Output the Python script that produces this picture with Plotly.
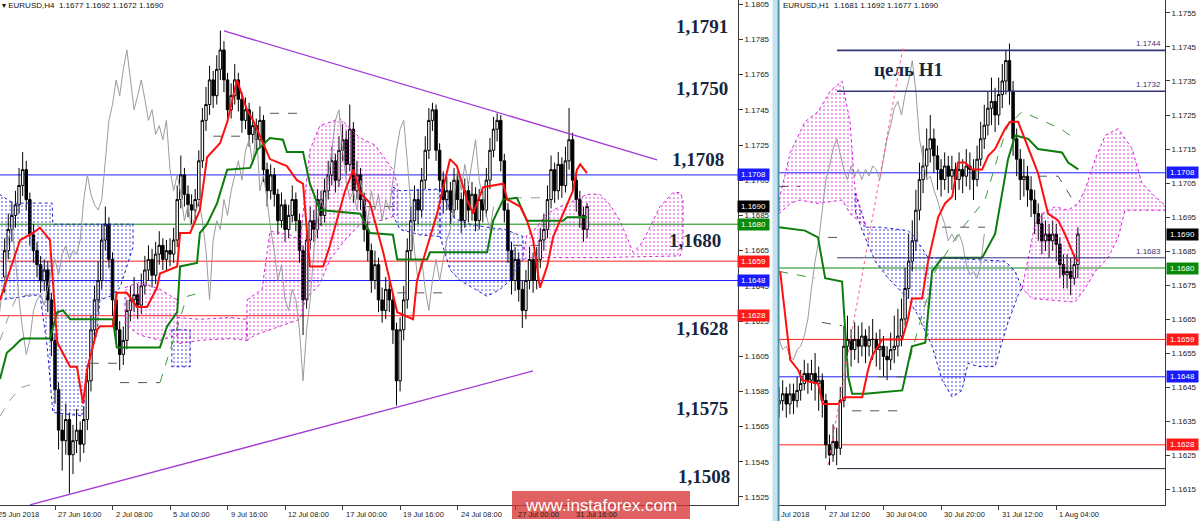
import plotly.graph_objects as go

# ======================= DATA =======================
# ---- Left panel: EURUSD H4, bar index 0 = first visible bar ----
L_FIRST_OPEN = 1.1650
L_CLOSE = [
    1.1665, 1.1677, 1.1685, 1.1691, 1.1702, 1.1711, 1.1694, 1.1674, 1.1665, 1.1657,
    1.1648, 1.1654, 1.1637, 1.1614, 1.1586, 1.1563, 1.1557, 1.1569, 1.1549, 1.1557,
    1.1563, 1.1555, 1.1569, 1.1591, 1.1620, 1.1637, 1.1648, 1.1671, 1.1680, 1.1660,
    1.1637, 1.1620, 1.1606, 1.1614, 1.1631, 1.1637, 1.1640, 1.1634, 1.1645, 1.1654,
    1.1660, 1.1651, 1.1663, 1.1668, 1.1660, 1.1665, 1.1663, 1.1671, 1.1694, 1.1708,
    1.1697, 1.1691, 1.1688, 1.1694, 1.1716, 1.1739, 1.1748, 1.1762, 1.1753, 1.1768,
    1.1779, 1.1762, 1.1745, 1.1753, 1.1762, 1.1751, 1.1739, 1.1745, 1.1731, 1.1736,
    1.1728, 1.1739, 1.1711, 1.1699, 1.1708, 1.1697, 1.1682, 1.1691, 1.1677, 1.1685,
    1.1694, 1.1682, 1.1665, 1.1637, 1.1671, 1.1682, 1.1677, 1.1694, 1.1685, 1.1699,
    1.1708, 1.1716, 1.1705, 1.1722, 1.1728, 1.1714, 1.1734, 1.1699, 1.1708, 1.1694,
    1.1677, 1.1665, 1.1648, 1.1657, 1.1637, 1.1631, 1.1643, 1.1637, 1.1620, 1.1591,
    1.1620, 1.1637, 1.1665, 1.1682, 1.1694, 1.1688, 1.1705, 1.1722, 1.1739, 1.1745,
    1.1722, 1.1705, 1.1694, 1.1699, 1.1688, 1.1705, 1.1694, 1.1682, 1.1699, 1.1688,
    1.1697, 1.1682, 1.1694, 1.1688, 1.1705, 1.1722, 1.1734, 1.1739, 1.1716, 1.1688,
    1.1665, 1.1648, 1.1660, 1.1643, 1.1631, 1.1648, 1.1660, 1.1648, 1.1660, 1.1671,
    1.1677, 1.1694, 1.1711, 1.1699, 1.1714, 1.1702, 1.1716, 1.1728, 1.1705, 1.1694,
    1.1685, 1.1677, 1.1690]
L_HIGH = [
    1.1672, 1.1686, 1.1693, 1.1699, 1.1712, 1.1721, 1.1716, 1.1698, 1.1680, 1.1670,
    1.1662, 1.1660, 1.1659, 1.1641, 1.1618, 1.1590, 1.1572, 1.1578, 1.1573, 1.1566,
    1.1575, 1.1568, 1.1576, 1.1598, 1.1628, 1.1645, 1.1659, 1.1680, 1.1690, 1.1684,
    1.1664, 1.1642, 1.1625, 1.1622, 1.1637, 1.1645, 1.1650, 1.1646, 1.1652, 1.1662,
    1.1668, 1.1666, 1.1670, 1.1676, 1.1672, 1.1671, 1.1672, 1.1678, 1.1702, 1.1719,
    1.1712, 1.1702, 1.1697, 1.1700, 1.1722, 1.1746, 1.1758, 1.1770, 1.1767, 1.1776,
    1.1790, 1.1784, 1.1766, 1.1760, 1.1771, 1.1766, 1.1755, 1.1752, 1.1749, 1.1744,
    1.1740, 1.1747, 1.1742, 1.1715, 1.1714, 1.1712, 1.1700, 1.1698, 1.1694, 1.1691,
    1.1702, 1.1698, 1.1686, 1.1668, 1.1676, 1.1690, 1.1688, 1.1700, 1.1699, 1.1706,
    1.1716, 1.1724, 1.1720, 1.1730, 1.1737, 1.1733, 1.1748, 1.1738, 1.1716, 1.1712,
    1.1698, 1.1682, 1.1669, 1.1665, 1.1661, 1.1644, 1.1650, 1.1648, 1.1641, 1.1624,
    1.1627, 1.1645, 1.1672, 1.1690, 1.1702, 1.1700, 1.1712, 1.1730, 1.1746, 1.1749,
    1.1748, 1.1726, 1.1710, 1.1707, 1.1704, 1.1712, 1.1710, 1.1698, 1.1706, 1.1704,
    1.1704, 1.1701, 1.1700, 1.1699, 1.1712, 1.1729, 1.1741, 1.1743, 1.1742, 1.1720,
    1.1692, 1.1670, 1.1667, 1.1664, 1.1648, 1.1654, 1.1667, 1.1664, 1.1667, 1.1678,
    1.1686, 1.1702, 1.1719, 1.1715, 1.1721, 1.1718, 1.1724, 1.1746, 1.1732, 1.1710,
    1.1699, 1.1690, 1.1692]
L_LOW = [
    1.1641, 1.1660, 1.1670, 1.1678, 1.1686, 1.1696, 1.1688, 1.1668, 1.1658, 1.1650,
    1.1641, 1.1642, 1.1630, 1.1605, 1.1578, 1.1552, 1.1540, 1.1549, 1.1527, 1.1538,
    1.1550, 1.1545, 1.1550, 1.1563, 1.1585, 1.1614, 1.1630, 1.1643, 1.1665, 1.1655,
    1.1628, 1.1612, 1.1597, 1.1600, 1.1609, 1.1625, 1.1630, 1.1626, 1.1629, 1.1640,
    1.1648, 1.1644, 1.1646, 1.1657, 1.1654, 1.1654, 1.1656, 1.1658, 1.1667, 1.1689,
    1.1690, 1.1684, 1.1680, 1.1683, 1.1690, 1.1712, 1.1733, 1.1742, 1.1746, 1.1748,
    1.1762, 1.1755, 1.1738, 1.1740, 1.1748, 1.1744, 1.1732, 1.1734, 1.1724, 1.1726,
    1.1720, 1.1724, 1.1704, 1.1690, 1.1694, 1.1690, 1.1674, 1.1678, 1.1670, 1.1672,
    1.1681, 1.1676, 1.1658, 1.1617, 1.1632, 1.1666, 1.1670, 1.1672, 1.1679, 1.1681,
    1.1694, 1.1702, 1.1698, 1.1701, 1.1716, 1.1708, 1.1710, 1.1692, 1.1694, 1.1688,
    1.1670, 1.1659, 1.1641, 1.1643, 1.1630, 1.1624, 1.1626, 1.1630, 1.1612, 1.1577,
    1.1585, 1.1614, 1.1632, 1.1660, 1.1676, 1.1680, 1.1684, 1.1700, 1.1717, 1.1733,
    1.1716, 1.1698, 1.1686, 1.1688, 1.1680, 1.1684, 1.1688, 1.1675, 1.1678, 1.1681,
    1.1682, 1.1676, 1.1677, 1.1681, 1.1684, 1.1700, 1.1718, 1.1727, 1.1710, 1.1681,
    1.1658, 1.1640, 1.1642, 1.1636, 1.1621, 1.1626, 1.1643, 1.1641, 1.1643, 1.1655,
    1.1665, 1.1672, 1.1689, 1.1692, 1.1694, 1.1695, 1.1698, 1.1711, 1.1699, 1.1687,
    1.1678, 1.1670, 1.1672]

L_TENKAN_X = [-1.3, 4.3, 7.9, 9.8, 12.6, 14.6, 18.2, 20.1, 21.8, 22.9, 25.7, 26.5, 30.1,
              31.2, 34.0, 36.8, 39.6, 42.4, 43.2, 48.0, 48.8, 51.6, 54.3, 56.3, 59.9, 61.9,
              64.6, 67.4, 69.1, 73.8, 78.5, 81.3, 83.0, 84.9, 88.6, 90.5, 94.7, 97.0, 98.9,
              101.6, 105.3, 108.0, 109.2, 113.6, 114.7, 117.5, 120.3, 123.9, 125.8, 128.6,
              130.3, 133.1, 138.7, 139.8, 143.4, 145.3, 147.0, 148.9, 150.9, 152.6, 155.3,
              158.1, 159.2, 160.1, 162.0]
L_TENKAN = [1.1637, 1.1671, 1.1675, 1.1678, 1.1671, 1.1613, 1.1599, 1.1599, 1.1578, 1.1597,
            1.1620, 1.1622, 1.1622, 1.1641, 1.1641, 1.1633, 1.1633, 1.1644, 1.1652, 1.1656,
            1.1675, 1.1675, 1.1688, 1.1718, 1.1726, 1.1738, 1.1762, 1.1745, 1.1739, 1.1717,
            1.1713, 1.1705, 1.1703, 1.1656, 1.1656, 1.1668, 1.1699, 1.1711, 1.1698, 1.1692,
            1.1664, 1.1641, 1.1630, 1.1626, 1.1648, 1.1667, 1.1686, 1.1717, 1.1713, 1.1694,
            1.1686, 1.1701, 1.1703, 1.1694, 1.1690, 1.1682, 1.1671, 1.1644, 1.1656, 1.1673,
            1.1686, 1.1699, 1.1711, 1.1714, 1.1709]
L_KIJUN_X = [-1.3, 0.6, 2.3, 4.3, 5.1, 12.6, 14.6, 16.2, 18.2, 30.1, 31.2, 43.2, 45.2, 48.0,
             48.8, 53.5, 54.3, 56.3, 59.1, 61.9, 68.3, 70.2, 73.8, 77.4, 78.5, 83.0, 84.9,
             87.7, 98.9, 101.6, 108.0, 109.2, 117.5, 118.3, 134.2, 135.9, 138.7, 142.5,
             145.3, 155.3, 156.5, 162.0]
L_KIJUN = [1.1592, 1.1607, 1.1610, 1.1614, 1.1615, 1.1615, 1.1630, 1.1631, 1.1626, 1.1626,
           1.1610, 1.1610, 1.1622, 1.1630, 1.1656, 1.1658, 1.1675, 1.1680, 1.1692, 1.1711,
           1.1712, 1.1722, 1.1729, 1.1728, 1.1721, 1.1721, 1.1703, 1.1688, 1.1686, 1.1675,
           1.1674, 1.1660, 1.1660, 1.1664, 1.1664, 1.1682, 1.1694, 1.1695, 1.1682, 1.1682,
           1.1684, 1.1684]

# Kumo (cloud) outlines as (bar index, price)
L_KUMO_BLUE = [
    [(-1.5, 1.1697), (2.3, 1.1692), (13.2, 1.1692), (13.4, 1.1680), (35.7, 1.1680),
     (35.7, 1.1667), (32.1, 1.1644), (29.3, 1.1639), (26.5, 1.1637), (25.7, 1.1618),
     (22.9, 1.1599), (21.8, 1.1571), (13.4, 1.1573), (11.8, 1.1611), (9.8, 1.1640),
     (-1.5, 1.1637)],
    [(46.5, 1.1620), (51.6, 1.1620), (51.6, 1.1599), (46.5, 1.1599)],
    [(108.0, 1.1701), (110.0, 1.1699), (121.1, 1.1700), (121.1, 1.1673), (115.5, 1.1674),
     (110.0, 1.1677), (108.0, 1.1685)],
    [(121.1, 1.1700), (125.3, 1.1683), (129.5, 1.1680), (135.0, 1.1678), (139.2, 1.1677),
     (144.2, 1.1673), (144.2, 1.1660), (140.6, 1.1648), (137.8, 1.1643), (134.2, 1.1639),
     (130.9, 1.1643), (126.7, 1.1648), (123.9, 1.1654), (121.1, 1.1673)],
]
L_KUMO_MAGENTA = [
    [(33.5, 1.1644), (37.6, 1.1647), (43.2, 1.1643), (48.0, 1.1637), (48.0, 1.1617),
     (43.2, 1.1614), (37.6, 1.1617), (33.5, 1.1623)],
    [(48.0, 1.1627), (54.3, 1.1626), (62.7, 1.1627), (67.4, 1.1626), (67.4, 1.1614),
     (62.7, 1.1615), (54.3, 1.1614), (48.0, 1.1612)],
    [(67.4, 1.1637), (71.6, 1.1643), (73.8, 1.1676), (79.4, 1.1674), (82.2, 1.1671),
     (84.9, 1.1722), (87.7, 1.1736), (93.3, 1.1740), (98.9, 1.1729), (103.0, 1.1725),
     (108.0, 1.1711), (109.2, 1.1703), (109.2, 1.1685), (104.4, 1.1682), (98.9, 1.1680),
     (94.7, 1.1671), (90.5, 1.1660), (87.7, 1.1646), (83.6, 1.1637), (82.2, 1.1626),
     (78.0, 1.1623), (73.8, 1.1620), (69.6, 1.1617), (67.4, 1.1614)],
    [(144.2, 1.1662), (145.3, 1.1674), (147.0, 1.1676), (150.9, 1.1686), (154.5, 1.1690),
     (158.1, 1.1693), (162.0, 1.1697), (165.6, 1.1697), (168.4, 1.1691), (171.2, 1.1682),
     (174.8, 1.1664), (176.8, 1.1668), (178.7, 1.1675), (182.3, 1.1690), (185.9, 1.1698),
     (187.9, 1.1698), (188.7, 1.1694), (188.7, 1.1668), (187.9, 1.1662), (165.6, 1.1661),
     (154.5, 1.1661), (146.2, 1.1661), (144.2, 1.1660)],
]
L_DASH_GRAY = [
    [(-1.3, 1.1571), (1.5, 1.1580), (4.3, 1.1587), (9.0, 1.1590)],
    [(-1.3, 1.1614), (1.5, 1.1630), (3.4, 1.1639), (8.4, 1.1640)],
    [(141.4, 1.1695), (150.9, 1.1695)],
]
L_DASH_DARK = [
    [(23.7, 1.1601), (31.2, 1.1601)], [(32.1, 1.1590), (43.2, 1.1590)],
    [(58.0, 1.1730), (65.5, 1.1730)], [(73.8, 1.1743), (83.0, 1.1743)],
    [(100.8, 1.1690), (109.2, 1.1690)], [(109.2, 1.1641), (122.0, 1.1641)],
    [(141.4, 1.1668), (150.9, 1.1668)],
]
L_DASH_GREEN = [[(43.2, 1.1590), (46.8, 1.1614), (50.7, 1.1639), (54.3, 1.1641)]]

L_TRENDLINES = [((61.0, 1.17898), (181.5, 1.17165)), ((7.0, 1.15205), (147.0, 1.15966))]

L_XTICK_IDX = [14, 30, 46, 62, 78, 94, 110, 126, 142, 158]
L_XTICK_TEXT = ["27 Jun 16:00", "2 Jul 08:00", "5 Jul 00:00", "9 Jul 16:00", "12 Jul 08:00",
                "17 Jul 00:00", "19 Jul 16:00", "24 Jul 08:00", "27 Jul 00:00", "31 Jul 16:00"]
L_YTICKS = [1.1525, 1.1545, 1.1565, 1.1585, 1.1605, 1.1625, 1.1645, 1.1665, 1.1685,
            1.1705, 1.1725, 1.1745, 1.1765, 1.1785, 1.1805]

# ---- Right panel: EURUSD H1 ----
R_FIRST_OPEN = 1.1640
R_CLOSE = [
    1.1641, 1.1643, 1.1640, 1.1643, 1.1641, 1.1644, 1.1646, 1.1649, 1.1647, 1.1649,
    1.1646, 1.1647, 1.1641, 1.1628, 1.1625, 1.1629, 1.1627, 1.1641, 1.1657, 1.1659,
    1.1656, 1.1659, 1.1657, 1.1660, 1.1657, 1.1659, 1.1659, 1.1656, 1.1657, 1.1654,
    1.1653, 1.1656, 1.1657, 1.1660, 1.1665, 1.1674, 1.1682, 1.1688, 1.1697, 1.1706,
    1.1710, 1.1715, 1.1718, 1.1713, 1.1709, 1.1706, 1.1710, 1.1707, 1.1709, 1.1706,
    1.1709, 1.1707, 1.1710, 1.1709, 1.1706, 1.1712, 1.1718, 1.1722, 1.1727, 1.1729,
    1.1725, 1.1731, 1.1735, 1.1741, 1.1732, 1.1718, 1.1712, 1.1706, 1.1707, 1.1703,
    1.1700, 1.1696, 1.1693, 1.1688, 1.1690, 1.1688, 1.1690, 1.1687, 1.1681, 1.1678,
    1.1679, 1.1677, 1.1681, 1.1690]
R_HIGH = [
    1.1645, 1.1647, 1.1645, 1.1646, 1.1646, 1.1648, 1.1650, 1.1653, 1.1652, 1.1653,
    1.1655, 1.1651, 1.1649, 1.1643, 1.1631, 1.1634, 1.1633, 1.1645, 1.1663, 1.1666,
    1.1662, 1.1664, 1.1663, 1.1664, 1.1662, 1.1663, 1.1665, 1.1661, 1.1662, 1.1660,
    1.1657, 1.1661, 1.1666, 1.1668, 1.1671, 1.1680, 1.1690, 1.1694, 1.1703, 1.1711,
    1.1716, 1.1721, 1.1725, 1.1721, 1.1716, 1.1712, 1.1714, 1.1713, 1.1713, 1.1711,
    1.1714, 1.1712, 1.1715, 1.1714, 1.1712, 1.1716, 1.1723, 1.1728, 1.1732, 1.1736,
    1.1733, 1.1736, 1.1740, 1.1744, 1.1746, 1.1735, 1.1721, 1.1715, 1.1712, 1.1710,
    1.1707, 1.1703, 1.1699, 1.1696, 1.1694, 1.1693, 1.1694, 1.1693, 1.1689, 1.1684,
    1.1684, 1.1683, 1.1684, 1.1692]
R_LOW = [
    1.1636, 1.1638, 1.1636, 1.1637, 1.1637, 1.1639, 1.1641, 1.1644, 1.1643, 1.1644,
    1.1641, 1.1638, 1.1636, 1.1624, 1.1622, 1.1623, 1.1622, 1.1625, 1.1639, 1.1652,
    1.1651, 1.1653, 1.1652, 1.1654, 1.1652, 1.1654, 1.1653, 1.1651, 1.1650, 1.1648,
    1.1647, 1.1650, 1.1652, 1.1654, 1.1657, 1.1663, 1.1671, 1.1679, 1.1685, 1.1694,
    1.1702, 1.1706, 1.1711, 1.1708, 1.1703, 1.1701, 1.1703, 1.1702, 1.1703, 1.1700,
    1.1703, 1.1702, 1.1704, 1.1703, 1.1700, 1.1704, 1.1710, 1.1715, 1.1719, 1.1722,
    1.1720, 1.1722, 1.1727, 1.1731, 1.1728, 1.1713, 1.1707, 1.1700, 1.1701, 1.1698,
    1.1695, 1.1690, 1.1688, 1.1684, 1.1685, 1.1683, 1.1685, 1.1682, 1.1677, 1.1674,
    1.1674, 1.1672, 1.1675, 1.1677]

R_TENKAN_X = [0.3, 3.1, 5.3, 6.4, 10.8, 12.2, 16.4, 18.3, 23.1, 24.7, 25.8, 28.6, 34.2,
              35.8, 36.9, 39.7, 41.4, 44.2, 46.1, 48.1, 49.7, 51.7, 53.6, 56.4, 58.1, 60.0,
              62.8, 64.2, 66.4, 67.5, 71.9, 74.7, 77.5, 79.4, 82.2, 83.1]
R_TENKAN = [1.1679, 1.1653, 1.1650, 1.1647, 1.1646, 1.1640, 1.1640, 1.1642, 1.1642, 1.1650,
            1.1654, 1.1659, 1.1659, 1.1665, 1.1671, 1.1671, 1.1682, 1.1695, 1.1699, 1.1701,
            1.1711, 1.1711, 1.1709, 1.1709, 1.1713, 1.1715, 1.1721, 1.1723, 1.1723, 1.1720,
            1.1708, 1.1696, 1.1694, 1.1690, 1.1683, 1.1682]
R_KIJUN_X = [0.0, 7.2, 10.8, 12.8, 17.5, 19.2, 20.3, 23.9, 34.2, 35.8, 36.9, 40.6, 42.5,
             45.3, 56.4, 60.0, 63.6, 65.6, 69.2, 71.9, 78.6, 80.3, 83.1]
R_KIJUN = [1.1692, 1.1691, 1.1689, 1.1677, 1.1676, 1.1648, 1.1643, 1.1643, 1.1644, 1.1652,
           1.1657, 1.1658, 1.1679, 1.1683, 1.1683, 1.1690, 1.1712, 1.1719, 1.1718, 1.1715,
           1.1714, 1.1711, 1.1709]

R_KUMO_MAGENTA = [
    [(0.0, 1.1700), (3.1, 1.1714), (7.2, 1.1723), (10.8, 1.1726), (14.2, 1.1732),
     (17.5, 1.1735), (19.7, 1.1723), (21.1, 1.1703), (24.2, 1.1692), (19.7, 1.1696),
     (17.5, 1.1700), (10.8, 1.1699), (5.8, 1.1700), (3.1, 1.1699), (0.0, 1.1696)],
    [(67.5, 1.1674), (71.1, 1.1693), (73.1, 1.1696), (76.7, 1.1698), (80.3, 1.1697),
     (83.1, 1.1699), (85.0, 1.1703), (87.8, 1.1712), (90.6, 1.1719), (94.2, 1.1721),
     (98.1, 1.1715), (100.8, 1.1705), (104.4, 1.1701), (109.0, 1.1697), (96.1, 1.1697),
     (94.2, 1.1689), (91.4, 1.1683), (87.8, 1.1679), (85.0, 1.1674), (82.2, 1.1670),
     (70.3, 1.1671)],
]
R_KUMO_BLUE = [
    [(21.1, 1.1702), (24.2, 1.1692), (28.1, 1.1692), (35.8, 1.1691), (37.8, 1.1689),
     (41.4, 1.1683), (45.3, 1.1683), (62.8, 1.1682), (65.6, 1.1679), (67.5, 1.1674),
     (66.4, 1.1672), (63.6, 1.1664), (61.9, 1.1658), (60.0, 1.1651), (55.3, 1.1651),
     (52.5, 1.1652), (50.8, 1.1644), (48.1, 1.1642), (45.3, 1.1647), (42.5, 1.1657),
     (38.6, 1.1666), (35.8, 1.1671), (30.3, 1.1677), (26.7, 1.1682), (23.1, 1.1691),
     (21.1, 1.1697)],
]
R_DASH_DARK = [
    [(0.0, 1.1704), (5.8, 1.1704)], [(11.9, 1.1664), (17.5, 1.1663)],
    [(13.6, 1.1689), (17.5, 1.1689)], [(20.3, 1.1638), (34.2, 1.1638)],
    [(27.5, 1.1648), (35.0, 1.1648)], [(45.3, 1.1692), (57.2, 1.1692)],
    [(71.9, 1.1707), (77.5, 1.1707), (82.2, 1.1699)],
]
R_DASH_GREEN = [
    [(0.0, 1.1679), (10.0, 1.1677)],
    [(35.0, 1.1648), (38.6, 1.1662), (43.3, 1.1679), (50.3, 1.1691), (57.2, 1.1700),
     (61.4, 1.1715), (64.2, 1.1724)],
    [(65.6, 1.1724), (67.5, 1.1726), (73.9, 1.1723), (78.1, 1.1721), (82.2, 1.1718)],
]
R_TARGET_START = 16.1
R_TARGETS = [1.1744, 1.1732]
R_LEVEL_1683 = 1.1683
R_LEVEL_LOW = 1.1621
R_PINK_LINE = ((13.6, 1.16221), (34.4, 1.17447))

R_XTICK_IDX = [13, 29, 45, 61, 77]
R_XTICK_TEXT = ["27 Jul 12:00", "30 Jul 04:00", "30 Jul 20:00", "31 Jul 12:00", "1 Aug 04:00"]
R_YTICKS = [1.1615, 1.1625, 1.1635, 1.1645, 1.1655, 1.1665, 1.1675, 1.1685, 1.1695,
            1.1705, 1.1715, 1.1725, 1.1735, 1.1745, 1.1755]

# Common support / resistance levels (both panels)
LEVELS = [1.1708, 1.1680, 1.1659, 1.1648, 1.1628]
LEVEL_COLORS = ["#1e1eff", "#0a8a0a", "#ff2020", "#1e1eff", "#ff2020"]
TAGS = [1.1708, 1.1690, 1.1680, 1.1659, 1.1648, 1.1628]
TAG_COLORS = ["#1a1aff", "#000000", "#0a8a0a", "#ff1a1a", "#1a1aff", "#ff1a1a"]

BIG_LABELS = ["1,1791", "1,1750", "1,1708", "1,1680", "1,1628", "1,1575", "1,1508"]
BIG_LABEL_POS = [(702, 27), (702, 88), (698, 159), (695, 240), (702, 328), (702, 408), (704, 476)]

# ======================= FIGURE =======================
W, H = 1200, 521
MAGENTA = "#d81ed8"
BLUE = "#1c1cd8"
fig = go.Figure()


def px(x):
    return x / W


def py(y):
    return 1 - y / H


def kumo(polys, color, xa, ya):
    for pts in polys:
        xs = [p[0] for p in pts] + [pts[0][0]]
        ys = [p[1] for p in pts] + [pts[0][1]]
        fig.add_trace(go.Scatter(
            x=xs, y=ys, mode="lines", fill="toself", fillcolor="rgba(0,0,0,0)",
            fillpattern=dict(shape=".", fgcolor=color, bgcolor="rgba(0,0,0,0)",
                             size=4, solidity=0.22),
            line=dict(color=color, width=1, dash="dot"),
            xaxis=xa, yaxis=ya, hoverinfo="skip", showlegend=False))


def dashed(segs, color, xa, ya):
    xs, ys = [], []
    for seg in segs:
        xs += [p[0] for p in seg] + [None]
        ys += [p[1] for p in seg] + [None]
    fig.add_trace(go.Scatter(x=xs, y=ys, mode="lines",
                             line=dict(color=color, width=1, dash="dash"),
                             xaxis=xa, yaxis=ya, hoverinfo="skip", showlegend=False))


def panel(close, high, low, first_open, tk_x, tk, kj_x, kj, blue, magenta,
          dgray, ddark, dgreen, xa, ya):
    kumo(blue, BLUE, xa, ya)
    kumo(magenta, MAGENTA, xa, ya)
    if dgray:
        dashed(dgray, "#9a9a9a", xa, ya)
    dashed(ddark, "#555555", xa, ya)
    dashed(dgreen, "#3c9a3c", xa, ya)
    n = len(close)
    idx = list(range(n))
    opens = [first_open] + close[:-1]
    # Chikou span: close shifted 26 bars back
    fig.add_trace(go.Scatter(x=[i - 26 for i in idx], y=close, mode="lines",
                             line=dict(color="#9c9c9c", width=1),
                             xaxis=xa, yaxis=ya, hoverinfo="skip", showlegend=False))
    fig.add_trace(go.Candlestick(
        x=idx, open=opens, high=high, low=low, close=close,
        increasing=dict(line=dict(color="black", width=1), fillcolor="white"),
        decreasing=dict(line=dict(color="black", width=1), fillcolor="black"),
        whiskerwidth=0, xaxis=xa, yaxis=ya, hoverinfo="skip", showlegend=False))
    fig.add_trace(go.Scatter(x=kj_x, y=kj, mode="lines", line=dict(color="#0b7d0b", width=2),
                             xaxis=xa, yaxis=ya, hoverinfo="skip", showlegend=False))
    fig.add_trace(go.Scatter(x=tk_x, y=tk, mode="lines", line=dict(color="#ff1010", width=2),
                             xaxis=xa, yaxis=ya, hoverinfo="skip", showlegend=False))


panel(L_CLOSE, L_HIGH, L_LOW, L_FIRST_OPEN, L_TENKAN_X, L_TENKAN, L_KIJUN_X, L_KIJUN,
      L_KUMO_BLUE, L_KUMO_MAGENTA, L_DASH_GRAY, L_DASH_DARK, L_DASH_GREEN, "x", "y")
panel(R_CLOSE, R_HIGH, R_LOW, R_FIRST_OPEN, R_TENKAN_X, R_TENKAN, R_KIJUN_X, R_KIJUN,
      R_KUMO_BLUE, R_KUMO_MAGENTA, None, R_DASH_DARK, R_DASH_GREEN, "x2", "y2")

shapes = []
for xr, yr in (("x", "y"), ("x2", "y2")):
    for v, c in zip(LEVELS, LEVEL_COLORS):
        shapes.append(dict(type="line", xref=xr + " domain", x0=0, x1=1, yref=yr, y0=v, y1=v,
                           line=dict(color=c, width=1), layer="below"))
for (a, b) in L_TRENDLINES:
    shapes.append(dict(type="line", xref="x", yref="y", x0=a[0], y0=a[1], x1=b[0], y1=b[1],
                       line=dict(color="#a43ad4", width=1.3)))
for v in R_TARGETS:
    shapes.append(dict(type="line", xref="x2", yref="y2", x0=R_TARGET_START, x1=107.2,
                       y0=v, y1=v, line=dict(color="#35357a", width=1.6)))
shapes.append(dict(type="line", xref="x2", yref="y2", x0=R_TARGET_START, x1=107.2,
                   y0=R_LEVEL_1683, y1=R_LEVEL_1683, line=dict(color="#35357a", width=1)))
shapes.append(dict(type="line", xref="x2", yref="y2", x0=R_TARGET_START, x1=107.2,
                   y0=R_LEVEL_LOW, y1=R_LEVEL_LOW, line=dict(color="#202030", width=1)))
a, b = R_PINK_LINE
shapes.append(dict(type="line", xref="x2", yref="y2", x0=a[0], y0=a[1], x1=b[0], y1=b[1],
                   line=dict(color="#ff5a78", width=1, dash="dot")))
# separator strip between the two windows
shapes.append(dict(type="rect", xref="paper", yref="paper", x0=px(772.5), x1=px(777.5),
                   y0=0, y1=1, fillcolor="#c6e2f0", line=dict(width=0)))
shapes.append(dict(type="line", xref="paper", yref="paper", x0=px(778.5), x1=px(778.5),
                   y0=0, y1=1, line=dict(color="#4b93a6", width=2)))
# watermark box
shapes.append(dict(type="rect", xref="paper", yref="paper", x0=px(512), x1=px(690),
                   y0=py(519), y1=py(491), fillcolor="rgba(214,52,52,0.78)",
                   line=dict(width=0), layer="above"))

ann = []
SANS = "Liberation Sans"
for i, t in zip(L_XTICK_IDX, L_XTICK_TEXT):
    ann.append(dict(xref="x", yref="paper", x=i, y=py(514), xanchor="left", yanchor="middle",
                    text=t, showarrow=False, xshift=1,
                    font=dict(family=SANS, size=7.5, color="#222")))
ann.append(dict(xref="paper", yref="paper", x=px(-4.5), y=py(514), xanchor="left",
                yanchor="middle", text="25 Jun 2018", showarrow=False,
                font=dict(family=SANS, size=7.5, color="#222")))
for i, t in zip(R_XTICK_IDX, R_XTICK_TEXT):
    ann.append(dict(xref="x2", yref="paper", x=i, y=py(514), xanchor="left", yanchor="middle",
                    text=t, showarrow=False, xshift=1,
                    font=dict(family=SANS, size=7.5, color="#222")))
ann.append(dict(xref="paper", yref="paper", x=px(779), y=py(514), xanchor="left",
                yanchor="middle", text="Jul 2018", showarrow=False,
                font=dict(family=SANS, size=7.5, color="#222")))
# headers
ann.append(dict(xref="paper", yref="paper", x=px(0), y=py(6), xanchor="left", yanchor="middle",
                text="▾ EURUSD,H4  1.1677 1.1692 1.1672 1.1690", showarrow=False,
                font=dict(family=SANS, size=8, color="#111")))
ann.append(dict(xref="paper", yref="paper", x=px(781), y=py(6), xanchor="left", yanchor="middle",
                text="EURUSD,H1  1.1681 1.1692 1.1677 1.1690", showarrow=False,
                font=dict(family=SANS, size=8, color="#111")))
# price tags on the axes
for v, c in zip(TAGS, TAG_COLORS):
    for xr_px, yr in ((737, "y"), (1166, "y2")):
        ann.append(dict(xref="paper", yref=yr, x=px(xr_px), y=v, xanchor="left",
                        yanchor="middle", text=f"{v:.4f}", showarrow=False, bgcolor=c,
                        width=29, height=9, borderpad=1,
                        font=dict(family=SANS, size=8, color="white")))
# target labels (right panel)
for v in R_TARGETS + [R_LEVEL_1683]:
    ann.append(dict(xref="paper", yref="y2", x=px(1163), y=v, xanchor="right",
                    yanchor="bottom", text=f"{v:.4f}", showarrow=False,
                    font=dict(family=SANS, size=8, color="#35357a")))
# big analyst labels
for t, (x, y) in zip(BIG_LABELS, BIG_LABEL_POS):
    ann.append(dict(xref="paper", yref="paper", x=px(x), y=py(y), xanchor="center",
                    yanchor="middle", text=f"<b>{t}</b>", showarrow=False,
                    font=dict(family="Liberation Serif", size=19, color="#16263f")))
ann.append(dict(xref="paper", yref="paper", x=px(909), y=py(70), xanchor="center",
                yanchor="middle", text="<b>цель H1</b>", showarrow=False,
                font=dict(family="Liberation Serif", size=19, color="#16263f")))
# watermark text
ann.append(dict(xref="paper", yref="paper", x=px(601), y=py(505), xanchor="center",
                yanchor="middle", text="www.instaforex.com", showarrow=False,
                font=dict(family=SANS, size=17, color="white")))

axis_common = dict(showgrid=False, zeroline=False, showline=True, linecolor="#3a3a3a",
                   linewidth=1, ticks="outside", ticklen=4, tickcolor="#3a3a3a",
                   fixedrange=True)
fig.update_layout(
    width=W, height=H, margin=dict(l=0, r=0, t=0, b=0, autoexpand=False),
    paper_bgcolor="white", plot_bgcolor="white", showlegend=False, boxgap=0.02,
    shapes=shapes, annotations=ann, hovermode=False,
    xaxis=dict(domain=[0, 738 / W], range=[-1.3, 204.0], tickvals=L_XTICK_IDX,
               showticklabels=False, rangeslider=dict(visible=False), anchor="y",
               **axis_common),
    yaxis=dict(domain=[16 / H, 1], range=[1.152045, 1.180739], side="right", anchor="x",
               tickvals=L_YTICKS, ticktext=[f"{v:.4f}" for v in L_YTICKS],
               tickfont=dict(family=SANS, size=8, color="#222"), **axis_common),
    xaxis2=dict(domain=[778 / W, 1165 / W], range=[-0.3, 107.2], tickvals=R_XTICK_IDX,
                showticklabels=False, rangeslider=dict(visible=False), anchor="y2",
                **axis_common),
    yaxis2=dict(domain=[16 / H, 1], range=[1.16103, 1.175882], side="right", anchor="x2",
                tickvals=R_YTICKS, ticktext=[f"{v:.4f}" for v in R_YTICKS],
                tickfont=dict(family=SANS, size=8, color="#222"), **axis_common),
)

fig.write_html("out.html", config={"displayModeBar": False},
               post_script="document.body.style.margin='0';document.body.style.overflow='hidden';")
